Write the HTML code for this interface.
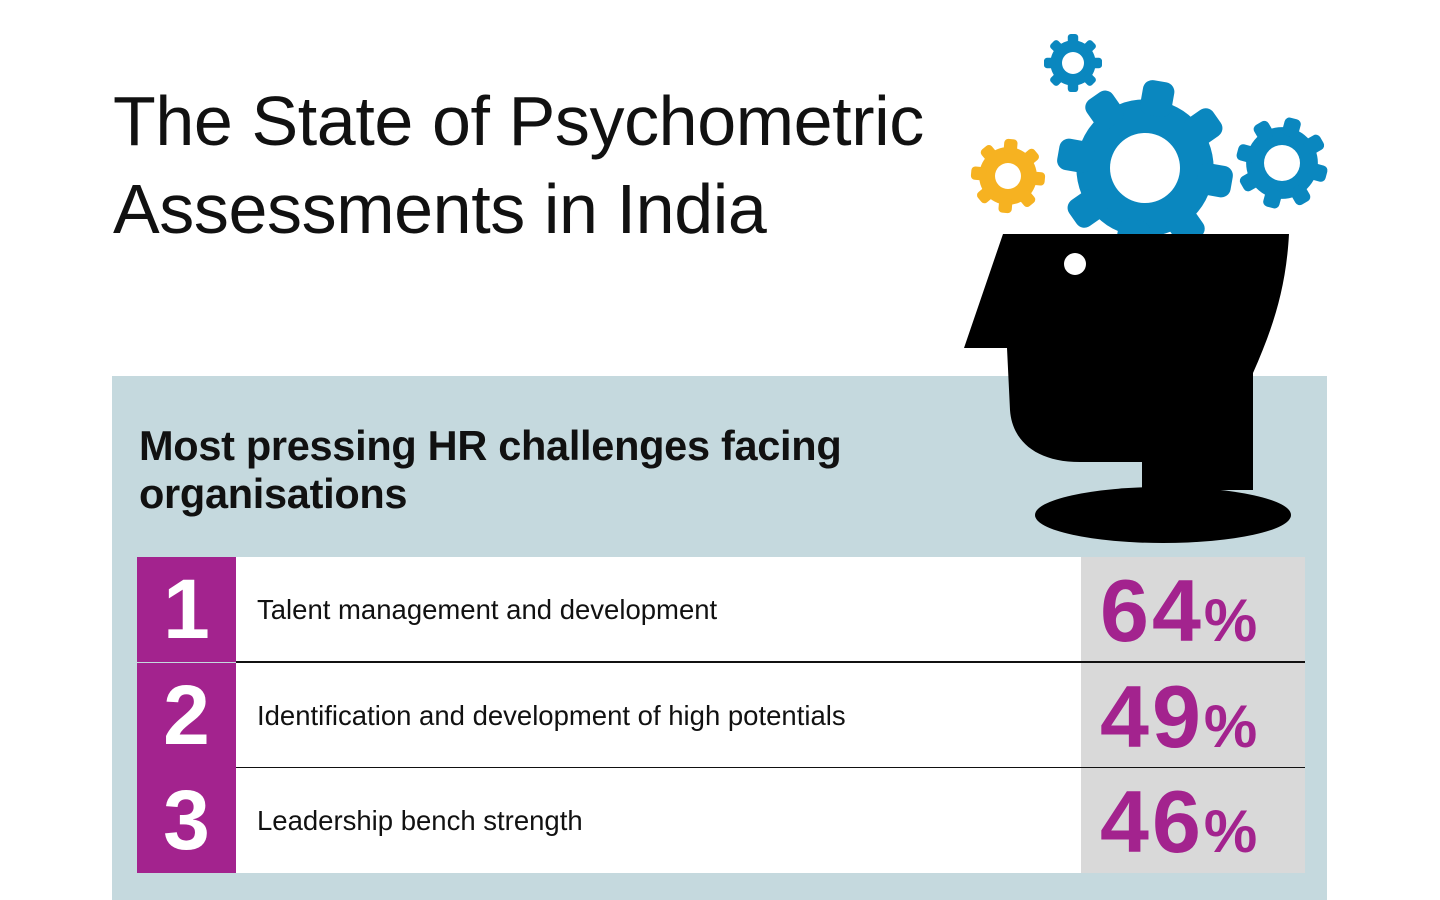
<!DOCTYPE html>
<html><head><meta charset="utf-8">
<style>
html,body{margin:0;padding:0;background:#fff;width:1440px;height:900px;overflow:hidden;font-family:"Liberation Sans",sans-serif;}
#title{position:absolute;left:113px;top:77px;font-size:70px;line-height:88px;color:#111;font-weight:normal;letter-spacing:-0.4px;margin:0}
#panel{position:absolute;left:112px;top:376px;width:1215px;height:524px;background:#c5d9de}
#sub{position:absolute;left:139px;top:422px;font-size:41.5px;line-height:48px;font-weight:bold;color:#111;margin:0;letter-spacing:-0.3px}
.row{position:absolute;left:137px;width:1168px;height:105px}
.num{position:absolute;left:0;top:0;width:99px;height:100%;background:#a3238e;color:#fff;font-weight:bold;font-size:84px;line-height:105px;text-align:center}
.lab{position:absolute;left:99px;top:0;width:845px;height:100%;background:#fff;font-size:27.5px;line-height:105px;padding-left:21px;box-sizing:border-box;color:#111}
.val{position:absolute;left:944px;top:0;width:224px;height:100%;background:#d9d9d9;color:#a3238e;font-weight:bold;font-size:88px;line-height:108px;padding-left:19px;box-sizing:border-box;letter-spacing:3px}
.val span{font-size:60px;letter-spacing:0}
.line{position:absolute;left:99px;width:1069px;height:2px;background:#111;bottom:-1px}
</style></head><body>
<h1 id="title">The State of Psychometric<br>Assessments in India</h1>
<div id="panel"></div>
<svg id="art" width="1440" height="900" style="position:absolute;left:0;top:0">
  <g id="gears"></g>
  <path fill="#000" d="M1003,234 L1289,234 C1286,290 1272,330 1253,373 L1253,490 L1142,490 L1142,462 L1080,462 C1035,462 1012,440 1010,410 L1007,348 L964,348 Z"/>
  <ellipse cx="1163" cy="515" rx="128" ry="28" fill="#000"/>
  <circle cx="1075" cy="264" r="11" fill="#fff"/>
</svg>
<h2 id="sub">Most pressing HR challenges facing<br>organisations</h2>
<div id="rows"></div>
<script>
const ranks=["1","2","3"];
const labels=["Talent management and development","Identification and development of high potentials","Leadership bench strength"];
const values=[64,49,46];

const rowsEl=document.getElementById('rows');
ranks.forEach((r,i)=>{
  const row=document.createElement('div');
  row.className='row';
  row.style.top=(557+i*105.5)+'px';
  
  
  row.innerHTML='<div class="num">'+r+'</div><div class="lab">'+labels[i]+'</div><div class="val">'+values[i]+'<span>%</span></div>'+(i<ranks.length-1?'<div class="line"></div>':'');
  const n=row.querySelector('.num');
  
  
  const l=row.querySelector('.lab');
  
  
  const v=row.querySelector('.val');
  
  
  rowsEl.appendChild(row);
});

const NS='http://www.w3.org/2000/svg';
const gg=document.getElementById('gears');
function gear(cx,cy,r,hole,color,teeth,rot,name){
  const g=document.createElementNS(NS,'g');
  
  
  const c=document.createElementNS(NS,'circle');
  c.setAttribute('cx',cx);c.setAttribute('cy',cy);c.setAttribute('r',r*0.78);c.setAttribute('fill',color);
  g.appendChild(c);
  const tw=r*0.36;
  for(let k=0;k<teeth;k++){
    const t=document.createElementNS(NS,'rect');
    t.setAttribute('x',cx-tw/2);t.setAttribute('y',cy-r);
    t.setAttribute('width',tw);t.setAttribute('height',r*0.4);
    t.setAttribute('rx',tw*0.3);
    t.setAttribute('fill',color);
    t.setAttribute('transform','rotate('+(rot+k*360/teeth)+' '+cx+' '+cy+')');
    g.appendChild(t);
  }
  const h=document.createElementNS(NS,'circle');
  h.setAttribute('cx',cx);h.setAttribute('cy',cy);h.setAttribute('r',hole);h.setAttribute('fill','#fff');
  g.appendChild(h);
  gg.appendChild(g);
}
gear(1145,168,88,35,'#0a87bf',8,10,'large-gear');
gear(1073,63,29,11,'#0a87bf',8,0,'small-gear');
gear(1282,163,46,18,'#0a87bf',8,15,'right-gear');
gear(1008,176,37,13,'#f6b221',8,5,'yellow-gear');
</script>
</body></html>
